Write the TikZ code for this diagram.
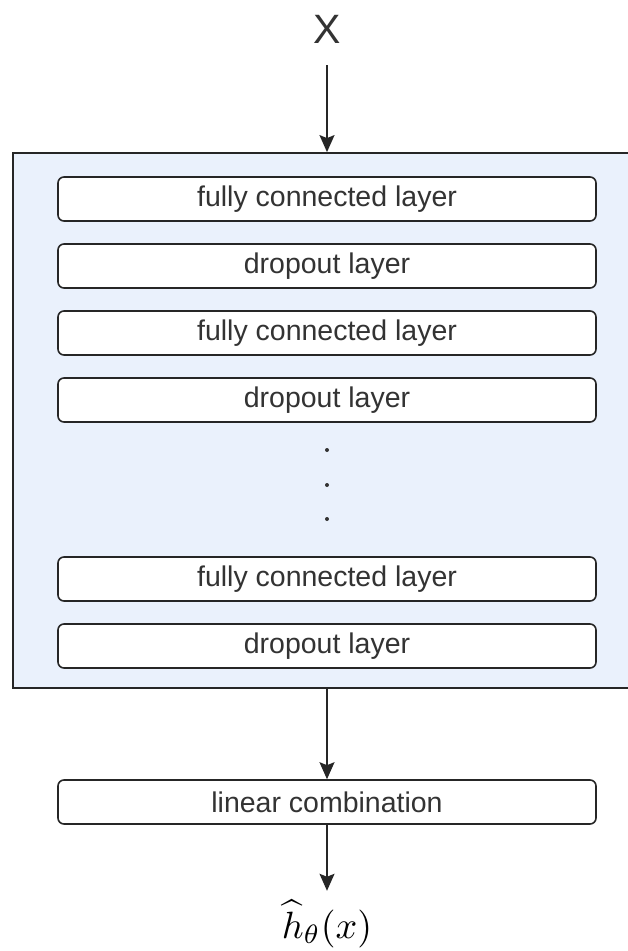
\documentclass[tikz,border=0pt]{standalone}
\usepackage{fontspec}
\setmainfont{Liberation Sans}
\usetikzlibrary{arrows.meta}
\definecolor{contfill}{HTML}{EAF1FC}
\definecolor{txt}{HTML}{333333}
\begin{document}
\begin{tikzpicture}[x=1pt,y=-1pt,
  layerbox/.style={draw=black!85, line width=1.6pt, rounded corners=6pt, fill=white,
     minimum width=538pt, minimum height=44pt, inner sep=0pt, text=txt,
     font=\fontsize{28.5}{30}\selectfont},
  arr/.style={-{Stealth[length=17pt,width=15pt,inset=3pt]}, line width=1.6pt, draw=black!85},
  dotnode/.style={circle, fill=txt, inner sep=0pt, minimum size=4pt}]
\clip (0,0) rectangle (628,951);
\fill[white] (0,0) rectangle (628,951);
\node[draw=black!85, line width=1.8pt, fill=contfill, minimum width=627pt, minimum height=535pt, inner sep=0pt] (cont) at (326.5,420.5) {};
\node[anchor=base, inner sep=0pt, text=txt, font=\fontsize{41}{44}\selectfont] (X) at (327,43) {X};
\node[layerbox] (fc1) at (327,199) {fully connected layer};
\node[layerbox] (do1) at (327,266) {dropout layer};
\node[layerbox] (fc2) at (327,333) {fully connected layer};
\node[layerbox] (do2) at (327,400) {dropout layer};
\node[dotnode] (d1) at (327,450) {};
\node[dotnode] (d2) at (327,485) {};
\node[dotnode] (d3) at (327,519) {};
\node[layerbox] (fc3) at (327,579) {fully connected layer};
\node[layerbox] (do3) at (327,646) {dropout layer};
\node[layerbox] (lin) at (327,802) {linear combination};
\node[anchor=base, inner sep=0pt, scale=3.8] (h) at (327,938) {$\widehat{h}_\theta(x)$};
\draw[arr, shorten <=22pt] (X.south) -- (X.south |- cont.north);
\draw[arr] (lin.north |- cont.south) -- (lin.north);
\draw[arr, shorten >=9pt] (lin.south) -- (lin.south |- h.north);
\end{tikzpicture}
\end{document}
